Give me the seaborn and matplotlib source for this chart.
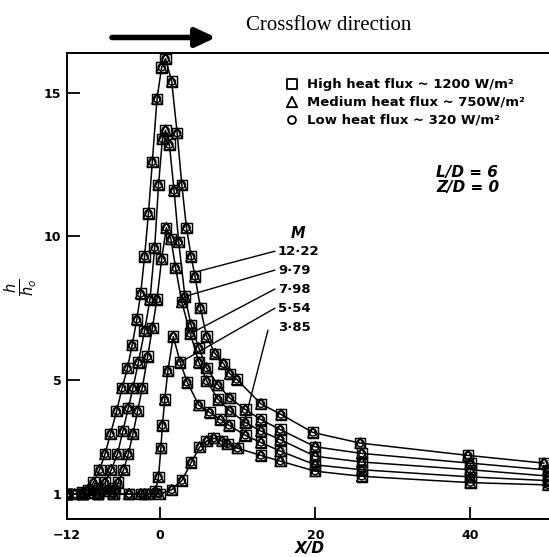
import matplotlib
matplotlib.use("Agg")
import numpy as np
import pandas as pd
import matplotlib.pyplot as plt
import seaborn as sns

# ---- data: h/h0 along the centreline for each blowing ratio M ----
m_labels = ["12·22", "9·79", "7·98", "5·54", "3·85"]

x_m1222 = [-12, -11, -10, -9.3, -8.6, -7.8, -7.1, -6.4, -5.6, -4.9, -4.2, -3.6, -3.0, -2.5,
           -2.0, -1.5, -1.0, -0.4, 0.2, 0.7, 1.5, 2.2, 2.8, 3.4, 4.0, 4.5, 5.2, 6.0, 7.1,
           8.2, 9.0, 9.9, 13.0, 15.6, 19.7, 25.8, 39.7, 49.5]
h_m1222 = [1.0, 1.0, 1.05, 1.15, 1.4, 1.85, 2.4, 3.1, 3.9, 4.7, 5.4, 6.2, 7.1, 8.0,
           9.3, 10.8, 12.6, 14.8, 15.9, 16.2, 15.4, 13.6, 11.8, 10.3, 9.3, 8.6, 7.5, 6.5, 5.9,
           5.55, 5.2, 5.0, 4.15, 3.78, 3.15, 2.78, 2.35, 2.08]

x_m979 = [-12, -10, -8.5, -7.8, -7.1, -6.3, -5.5, -4.8, -4.1, -3.5, -2.8, -2.0, -1.3, -0.7,
          -0.2, 0.3, 0.7, 1.2, 1.8, 2.4, 3.2, 4.0, 5.0, 6.0, 7.5, 9.0, 11.0, 13.0, 15.5,
          20.0, 26.0, 40.0, 50.0]
h_m979 = [1.0, 1.0, 1.05, 1.2, 1.4, 1.85, 2.4, 3.2, 4.0, 4.7, 5.6, 6.7, 7.8, 9.6,
          11.8, 13.4, 13.7, 13.2, 11.6, 9.8, 7.9, 6.9, 6.1, 5.4, 4.8, 4.35, 3.95, 3.6, 3.25,
          2.65, 2.42, 2.08, 1.84]

x_m798 = [-12, -10, -8, -6.5, -5.9, -5.4, -4.7, -4.1, -3.5, -2.9, -2.3, -1.6, -1.0, -0.4,
          0.2, 0.8, 1.4, 2.0, 2.8, 3.9, 5.0, 6.0, 7.5, 9.0, 11.0, 13.0, 15.5, 20.0, 26.0,
          40.0, 50.0]
h_m798 = [1.0, 1.0, 1.0, 1.1, 1.2, 1.4, 1.85, 2.4, 3.1, 3.9, 4.7, 5.8, 6.8, 7.8,
          9.2, 10.3, 9.9, 8.9, 7.7, 6.6, 5.6, 4.95, 4.3, 3.9, 3.5, 3.2, 2.9, 2.32, 2.12,
          1.85, 1.63]

x_m554 = [-12, -10, -8, -6, -4, -2.5, -1.5, -0.6, -0.2, 0.1, 0.3, 0.6, 1.0, 1.7, 2.6,
          3.5, 5.0, 6.4, 7.8, 8.9, 11.0, 13.0, 15.5, 20.0, 26.0, 40.0, 50.0]
h_m554 = [1.0, 1.0, 1.0, 1.0, 1.0, 1.0, 1.0, 1.1, 1.6, 2.6, 3.4, 4.3, 5.3, 6.5, 5.6,
          4.9, 4.1, 3.85, 3.6, 3.4, 3.05, 2.8, 2.5, 2.02, 1.85, 1.6, 1.47]

x_m385 = [-12, -10, -8, -6, -4, -2, -0.1, 1.5, 2.8, 4.0, 5.1, 6.0, 6.9, 8.0, 8.7, 10.0,
          13.0, 15.5, 20.0, 26.0, 40.0, 50.0]
h_m385 = [1.0, 1.0, 1.0, 1.0, 1.0, 1.0, 1.0, 1.15, 1.47, 2.1, 2.64, 2.85, 2.95, 2.85, 2.75,
          2.6, 2.35, 2.15, 1.8, 1.62, 1.4, 1.32]

# where each M label's leader line meets its curve
leader_x = [4.4, 3.2, 3.9, 2.6, 10.0]

flux_names = ["High heat flux ~ 1200 W/m²",
              "Medium heat flux ~ 750W/m²",
              "Low heat flux ~ 320 W/m²"]
flux_markers = ["s", "^", "o"]

curves = [(x_m1222, h_m1222), (x_m979, h_m979), (x_m798, h_m798),
          (x_m554, h_m554), (x_m385, h_m385)]

frames = []
for lab, (xs, hs) in zip(m_labels, curves):
    frames.append(pd.DataFrame({"X/D": xs, "h/h0": hs, "M": lab}))
df = pd.concat(frames, ignore_index=True)

# ---- style ----
sns.set_style("ticks")
plt.rcParams["font.family"] = ["DejaVu Sans"]
plt.rcParams["axes.linewidth"] = 1.4
for key in ["text.color", "axes.labelcolor", "xtick.color", "ytick.color",
            "axes.edgecolor"]:
    plt.rcParams[key] = "black"

fig = plt.figure(figsize=(5.49, 5.57), dpi=100)
W, H = 549.0, 557.0
ax = fig.add_axes([67 / W, 1 - 519 / H, 1 - 67 / W, (519 - 53) / H])

# curves
sns.lineplot(data=df, x="X/D", y="h/h0", units="M", estimator=None, sort=False,
             color="black", linewidth=1.1, ax=ax, legend=False)

# data symbols for the three heat-flux levels
sizes = {"s": 56, "^": 56, "o": 26}
for mk in flux_markers:
    n_before = len(ax.collections)
    sns.scatterplot(data=df, x="X/D", y="h/h0", marker=mk, s=sizes[mk],
                    color="black", linewidth=1.0, ax=ax, legend=False, zorder=3)
    for coll in ax.collections[n_before:]:
        coll.set_facecolor("none")
        coll.set_edgecolor("black")
        coll.set_linewidth(1.05)

ax.set_xlim(-11.98, 50.13)
ax.set_ylim(0.13, 16.40)
ax.set_xticks([-12, 0, 20, 40])
ax.set_xticklabels(["−12", "0", "20", "40"])
ax.set_yticks([1, 5, 10, 15])
ax.set_yticklabels(["1", "5", "10", "15"])
ax.tick_params(axis="both", direction="in", length=9, width=1.3, labelsize=9,
               colors="black")
ax.tick_params(axis="x", pad=7)
ax.tick_params(axis="y", pad=4)
for lbl in ax.get_xticklabels() + ax.get_yticklabels():
    lbl.set_fontweight("bold")
ax.spines["right"].set_visible(False)
for sp in ["left", "bottom", "top"]:
    ax.spines[sp].set_color("black")
ax.set_xlabel("")
ax.set_ylabel("")

# axis titles
fig.text(310 / W, 1 - 548 / H, "X/D", ha="center", va="center", fontsize=11,
         style="italic", fontweight="bold")
fig.text(21 / W, 1 - 287 / H, r"$\frac{h}{h_o}$", ha="center", va="center",
         fontsize=15, rotation=90)

# crossflow arrow and caption
ax.annotate("", xy=(216 / W, 1 - 37.5 / H), xytext=(112 / W, 1 - 37.5 / H),
            xycoords="figure fraction", textcoords="figure fraction",
            arrowprops=dict(arrowstyle="-|>,head_length=0.6,head_width=0.28",
                            lw=4, color="black", mutation_scale=20,
                            shrinkA=0, shrinkB=0))
fig.text(329 / W, 1 - 26 / H, "Crossflow direction", ha="center", va="center",
         fontsize=15, family=["Liberation Serif"])

# heat-flux key
key_rows = [15.31, 14.69, 14.06]
for name, mk, yv in zip(flux_names, flux_markers, key_rows):
    ax.scatter([17.0], [yv], marker=mk, s=sizes[mk] if mk != "o" else 32,
               facecolors="none", edgecolors="black", linewidths=1.3, zorder=3)
    ax.text(19.0, yv, name, ha="left", va="center", fontsize=9.5, fontweight="bold")

# geometry
ax.text(35.6, 12.24, "L/D = 6", ha="left", va="center", fontsize=11,
        style="italic", fontweight="bold")
ax.text(35.6, 11.72, "Z/D = 0", ha="left", va="center", fontsize=11,
        style="italic", fontweight="bold")

# M labels with leader lines
ax.text(17.8, 10.11, "M", ha="center", va="center", fontsize=10.5, style="italic",
        fontweight="bold")
label_rows = [9.48, 8.82, 8.16, 7.49, 6.83]
leader_start = [(14.8, 9.48), (14.8, 8.82), (14.8, 8.16), (14.8, 7.49), (13.9, 6.72)]
for lab, yv, (sx, sy), lx, (xs, hs) in zip(m_labels, label_rows, leader_start,
                                            leader_x, curves):
    ax.text(15.2, yv, lab, ha="left", va="center", fontsize=9.5, fontweight="bold")
    ly = np.interp(lx, xs, hs)
    ax.plot([sx, lx], [sy, ly], color="black", lw=1.0)

fig.savefig("out.png", dpi=100)
